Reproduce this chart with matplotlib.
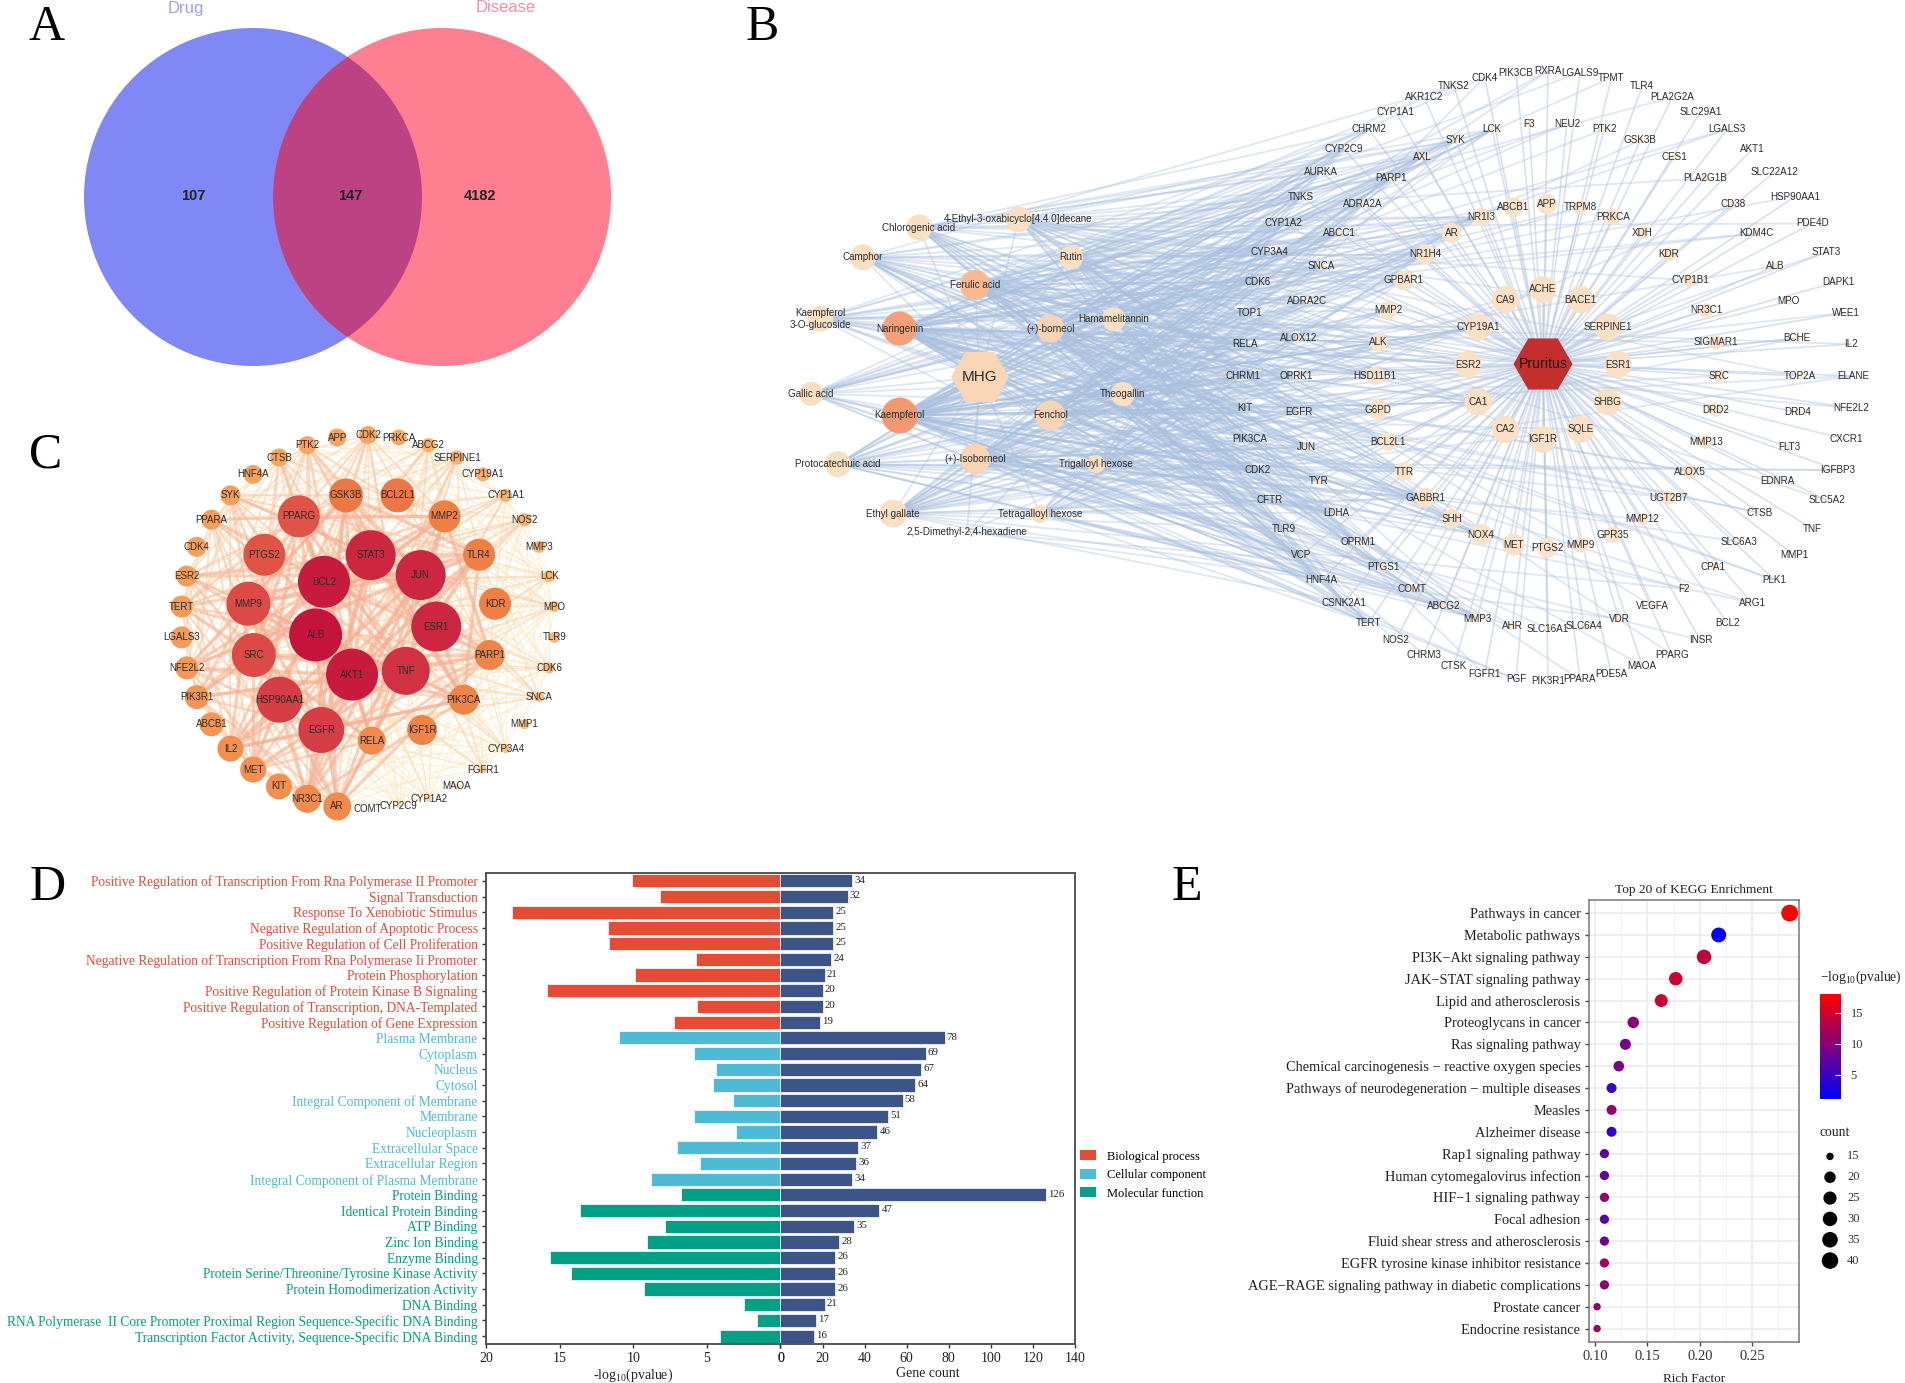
import numpy as np
import matplotlib
matplotlib.use("Agg")
import matplotlib.pyplot as plt
from matplotlib.collections import LineCollection
from matplotlib.colors import LinearSegmentedColormap, Normalize
from matplotlib.patches import Circle, Patch, RegularPolygon

plt.rcParams['font.family'] = ['Liberation Sans', 'DejaVu Sans']
plt.rcParams['mathtext.default'] = 'regular'

W, H = 1906, 1383
SERIF = 'Liberation Serif'

# ---- panel A
venn_titles = ['Drug', 'Disease']
venn_counts = [107, 147, 4182]

# ---- panel B, ring lists run counter clockwise from 3 o'clock
ring1 = ['ESR1', 'SERPINE1', 'BACE1', 'ACHE', 'CA9', 'CYP19A1', 'ESR2', 'CA1', 'CA2', 'IGF1R', 'SQLE', 'SHBG']
ring2 = ['SRC', 'SIGMAR1', 'NR3C1', 'CYP1B1', 'KDR', 'XDH', 'PRKCA', 'TRPM8', 'APP', 'ABCB1', 'NR1I3', 'AR',
         'NR1H4', 'GPBAR1', 'MMP2', 'ALK', 'HSD11B1', 'G6PD', 'BCL2L1', 'TTR', 'GABBR1', 'SHH', 'NOX4', 'MET',
         'PTGS2', 'MMP9', 'GPR35', 'MMP12', 'UGT2B7', 'ALOX5', 'MMP13', 'DRD2']
ring2_r = [6, 7, 7, 7, 7, 6, 8, 7, 10, 10, 9, 10, 10, 10, 9, 9, 9, 10, 9, 9, 10, 10, 11, 11, 10, 8, 8, 6, 7, 7, 7, 7]
ring3_top = ['TOP2A', 'BCHE', 'MPO', 'ALB', 'KDM4C', 'CD38', 'PLA2G1B', 'CES1', 'GSK3B', 'PTK2', 'NEU2', 'F3',
             'LCK', 'SYK', 'AXL', 'PARP1', 'ADRA2A', 'ABCC1', 'SNCA', 'ADRA2C', 'ALOX12', 'OPRK1']
ring3_bottom = ['EGFR', 'JUN', 'TYR', 'LDHA', 'OPRM1', 'PTGS1', 'COMT', 'ABCG2', 'MMP3', 'AHR', 'SLC16A1',
                'SLC6A4', 'VDR', 'VEGFA', 'F2', 'CPA1', 'SLC6A3', 'CTSB', 'EDNRA', 'FLT3', 'DRD4']
ring4 = ['ELANE', 'IL2', 'WEE1', 'DAPK1', 'STAT3', 'PDE4D', 'HSP90AA1', 'SLC22A12', 'AKT1', 'LGALS3', 'SLC29A1',
         'PLA2G2A', 'TLR4', 'TPMT', 'LGALS9', 'RXRA', 'PIK3CB', 'CDK4', 'TNKS2', 'AKR1C2', 'CYP1A1', 'CHRM2',
         'CYP2C9', 'AURKA', 'TNKS', 'CYP1A2', 'CYP3A4', 'CDK6', 'TOP1', 'RELA', 'CHRM1', 'KIT', 'PIK3CA', 'CDK2',
         'CFTR', 'TLR9', 'VCP', 'HNF4A', 'CSNK2A1', 'TERT', 'NOS2', 'CHRM3', 'CTSK', 'FGFR1', 'PGF', 'PIK3R1',
         'PPARA', 'PDE5A', 'MAOA', 'PPARG', 'INSR', 'BCL2', 'ARG1', 'PLK1', 'MMP1', 'TNF', 'SLC5A2', 'IGFBP3',
         'CXCR1', 'NFE2L2']
drug_inner = ['Ferulic acid', 'Naringenin', 'Kaempferol', '(+)-Isoborneol', 'Fenchol', '(+)-borneol']
drug_inner_r = [15, 17, 18, 15, 15, 14]
drug_inner_deg = [48, 70, 78, 36, 36, 33]
drug_outer = ['2,5-Dimethyl-2,4-hexadiene', 'Tetragalloyl hexose', 'Trigalloyl hexose', 'Theogallin',
              'Hamamelitannin', 'Rutin', '4-Ethyl-3-oxabicyclo[4.4.0]decane', 'Chlorogenic acid', 'Camphor',
              'Kaempferol\n3-O-glucoside', 'Gallic acid', 'Protocatechuic acid', 'Ethyl gallate']
drug_outer_angle = [270, 297.7, 325.4, 353, 20.8, 48.5, 71.7, 108, 131.5, 159, 186.9, 214.6, 242]
drug_outer_dist = [157, 157, 157, 157, 157, 157, 164, 155, 157, 157, 157, 157, 157]
drug_outer_r = [2, 9, 9, 12, 12, 12, 13, 13, 13, 13, 12, 13, 14]
drug_outer_deg = [4, 18, 18, 18, 18, 27, 27, 27, 27, 21, 21, 27, 33]

# ---- panel C, same idea
c_inner = ['STAT3', 'BCL2', 'ALB', 'AKT1', 'TNF', 'ESR1', 'JUN']
c_inner_r = [25, 26, 26.5, 26, 24, 25, 25]
c_middle = ['RELA', 'IGF1R', 'PIK3CA', 'PARP1', 'KDR', 'TLR4', 'MMP2', 'BCL2L1', 'GSK3B', 'PPARG', 'PTGS2', 'MMP9',
            'SRC', 'HSP90AA1', 'EGFR']
c_middle_r = [14, 15, 15, 15, 16, 16, 16, 17, 17, 21, 21, 22, 22, 23, 23]
c_outer = ['CDK2', 'APP', 'PTK2', 'CTSB', 'HNF4A', 'SYK', 'PPARA', 'CDK4', 'ESR2', 'TERT', 'LGALS3', 'NFE2L2',
           'PIK3R1', 'ABCB1', 'IL2', 'MET', 'KIT', 'NR3C1', 'AR', 'COMT', 'CYP2C9', 'CYP1A2', 'MAOA', 'FGFR1',
           'CYP3A4', 'MMP1', 'SNCA', 'CDK6', 'TLR9', 'MPO', 'LCK', 'MMP3', 'NOS2', 'CYP1A1', 'CYP19A1', 'SERPINE1',
           'ABCG2', 'PRKCA']
c_outer_r = [9, 9, 9, 9, 9.5, 10, 10, 10, 10.5, 11, 11, 11.5, 12, 12, 13, 13, 13, 14, 14, 1, 2, 3, 3, 4,
             4.5, 5, 5, 5.5, 5.5, 5.5, 6, 6, 6.5, 6.5, 7, 7, 7, 8]

# ---- panel D
go_terms = ['Positive Regulation of Transcription From Rna Polymerase II Promoter', 'Signal Transduction',
            'Response To Xenobiotic Stimulus', 'Negative Regulation of Apoptotic Process',
            'Positive Regulation of Cell Proliferation',
            'Negative Regulation of Transcription From Rna Polymerase Ii Promoter', 'Protein Phosphorylation',
            'Positive Regulation of Protein Kinase B Signaling', 'Positive Regulation of Transcription, DNA-Templated',
            'Positive Regulation of Gene Expression', 'Plasma Membrane', 'Cytoplasm', 'Nucleus', 'Cytosol',
            'Integral Component of Membrane', 'Membrane', 'Nucleoplasm', 'Extracellular Space', 'Extracellular Region',
            'Integral Component of Plasma Membrane', 'Protein Binding', 'Identical Protein Binding', 'ATP Binding',
            'Zinc Ion Binding', 'Enzyme Binding', 'Protein Serine/Threonine/Tyrosine Kinase Activity',
            'Protein Homodimerization Activity', 'DNA Binding',
            'RNA Polymerase  II Core Promoter Proximal Region Sequence-Specific DNA Binding',
            'Transcription Factor Activity, Sequence-Specific DNA Binding']
go_logp = [10.1, 8.17, 18.25, 11.73, 11.65, 5.75, 9.9, 15.86, 5.7, 7.2, 10.97, 5.9, 4.35, 4.6, 3.25, 5.87, 3.04, 7.0,
           5.47, 8.8, 6.76, 13.6, 7.85, 9.1, 15.67, 14.2, 9.28, 2.5, 1.6, 4.08]
go_count = [34, 32, 25, 25, 25, 24, 21, 20, 20, 19, 78, 69, 67, 64, 58, 51, 46, 37, 36, 34, 126, 47, 35, 28, 26, 26, 26,
            21, 17, 16]
go_group = [0] * 10 + [1] * 10 + [2] * 10
go_names = ['Biological process', 'Cellular component', 'Molecular function']

# ---- panel E
kegg_terms = ['Pathways in cancer', 'Metabolic pathways', 'PI3K\u2212Akt signaling pathway',
              'JAK\u2212STAT signaling pathway', 'Lipid and atherosclerosis', 'Proteoglycans in cancer',
              'Ras signaling pathway', 'Chemical carcinogenesis \u2212 reactive oxygen species',
              'Pathways of neurodegeneration \u2212 multiple diseases', 'Measles', 'Alzheimer disease',
              'Rap1 signaling pathway', 'Human cytomegalovirus infection', 'HIF\u22121 signaling pathway',
              'Focal adhesion', 'Fluid shear stress and atherosclerosis', 'EGFR tyrosine kinase inhibitor resistance',
              'AGE\u2212RAGE signaling pathway in diabetic complications', 'Prostate cancer', 'Endocrine resistance']
kegg_rich = [.2857, .218, .204, .177, .1632, .1365, .129, .1227, .1158, .1158, .1158, .109, .109, .109, .109, .109,
             .109, .109, .102, .102]
kegg_logp = [18, 1.5, 14, 15, 14.5, 10.5, 9, 9, 5, 11, 4.5, 7.5, 7.5, 11, 7, 8.5, 12, 10.5, 10.5, 11]
kegg_count = [42, 32, 30, 26, 24, 20, 19, 18, 17, 17, 17, 16, 16, 16, 16, 16, 16, 16, 15, 15]
legend_counts = [15, 20, 25, 30, 35, 40]


def px_axes(left, top, right, bottom, **kw):
    return fig.add_axes([left / W, 1 - bottom / H, (right - left) / W, (bottom - top) / H], **kw)


def ring(cx, cy, r, n, start=0.0):
    a = np.radians(start + np.arange(n) * 360.0 / n)
    return np.c_[cx + r * np.cos(a), cy - r * np.sin(a)]


def draw_nodes(ax, xy, radii, colors, zorder=3):
    sizes = (2 * np.asarray(radii, float) * 0.72) ** 2
    ax.scatter(xy[:, 0], xy[:, 1], s=sizes, c=colors, linewidths=0, zorder=zorder)


def draw_labels(ax, names, xy, size, color='#2b2b2b'):
    for name, (x, y) in zip(names, xy):
        ax.text(x, y, name, fontsize=size, color=color, ha='center', va='center', zorder=5)


fig = plt.figure(figsize=(W / 100, H / 100), dpi=100, facecolor='white')
net = fig.add_axes([0, 0, 1, 1])
net.set_xlim(0, W)
net.set_ylim(H, 0)
net.axis('off')

for letter, x, y in [('A', 47, 28), ('B', 762, 28), ('C', 46, 455), ('D', 48, 888), ('E', 1187, 888)]:
    net.text(x, y, letter, fontsize=36, family=SERIF, ha='center', va='center', color='black', zorder=6)

# A: venn
left_c = Circle((253, 197), 169, fc='#8088F5', ec='none')
right_c = Circle((442, 197), 169, fc='#FE8090', ec='none')
net.add_patch(left_c)
net.add_patch(right_c)
both = Circle((442, 197), 169, fc='#BC4283', ec='none', zorder=1.5)
net.add_patch(both)
both.set_clip_path(Circle((253, 197), 169, transform=net.transData))
net.text(186, 8, venn_titles[0], fontsize=12, color='#9AA0F2', ha='center', va='center')
net.text(506, 8, venn_titles[1], fontsize=12, color='#F78FA0', ha='center', va='center')
for val, x in zip(venn_counts, [193, 350, 480]):
    net.text(x, 196, str(val), fontsize=10.5, fontweight='bold', color='#222222', ha='center', va='center', zorder=3)

# B: target rings
xy1 = ring(1543, 364.5, 75, len(ring1))
xy2 = ring(1547, 376, 172, len(ring2))
a_top = np.radians(np.linspace(0, 180, len(ring3_top)))
a_bot = np.radians(np.linspace(180, 360, len(ring3_bottom) + 2)[1:-1])
a3 = np.r_[a_top, a_bot]
ring3 = ring3_top + ring3_bottom
xy3 = np.c_[1548 + 252 * np.cos(a3), 376 - 253 * np.sin(a3)]
xy4 = ring(1548, 376, 305, len(ring4))
targets = np.vstack([xy1, xy2, xy3, xy4])

xy_di = ring(975, 372, 87, len(drug_inner), start=90)
a_do = np.radians(drug_outer_angle)
d_do = np.array(drug_outer_dist, float)
xy_do = np.c_[967 + d_do * np.cos(a_do), 375 - d_do * np.sin(a_do)]
drugs = np.vstack([xy_di, xy_do])
drug_names = drug_inner + drug_outer
drug_deg = drug_inner_deg + drug_outer_deg
mhg = (980, 377)
pruritus = (1543, 364)

# Edges cannot be read one by one: each drug gets as many links as its node size suggests
left_pool = np.where((targets[:, 0] < 1500) & (np.abs(targets[:, 1] - 376) < 260))[0]
segs = []
for i, (d, deg) in enumerate(zip(drugs, drug_deg)):
    for k in range(deg):
        pool = left_pool if k % 5 else np.arange(len(targets))
        segs.append([d, targets[pool[(i * 13 + k * 7) % len(pool)]]])
    segs.append([d, mhg])
net.add_collection(LineCollection(segs, colors='#A9C0DF', linewidths=1.3, alpha=0.38, zorder=1))
segs2 = [[pruritus, t] for t in targets]
net.add_collection(LineCollection(segs2, colors='#B7C9E3', linewidths=1.2, alpha=0.55, zorder=1))

draw_nodes(net, xy1, [13.5] * len(ring1), '#FBE0C5')
draw_nodes(net, xy2, ring2_r, '#FBE3CB')
draw_nodes(net, xy3, [3.5] * len(ring3), '#FBE6CF')
di_colors = ['#F6B990', '#F4A079', '#F4986F', '#F9D3B4', '#F9D3B4', '#F9D3B4']
draw_nodes(net, xy_di, drug_inner_r, di_colors)
draw_nodes(net, xy_do, drug_outer_r, '#FBDFC3')
net.add_patch(RegularPolygon(mhg, 6, radius=29, orientation=np.pi / 2, fc='#F8D6B6', ec='none', zorder=3))
net.add_patch(RegularPolygon(pruritus, 6, radius=29.5, orientation=np.pi / 2, fc='#C22F2D', ec='none', zorder=3))
net.text(*mhg, 'MHG', fontsize=11, color='#2b2b2b', ha='center', va='center', zorder=5)
net.text(*pruritus, 'Pruritus', fontsize=10.2, color='#2a1010', ha='center', va='center', zorder=5)
draw_labels(net, ring1, xy1, 7.1)
draw_labels(net, ring2, xy2, 7.1)
draw_labels(net, ring3, xy3, 7.1)
draw_labels(net, ring4, xy4, 7.1)
draw_labels(net, drug_names, drugs, 7.1)

# C: hub genes
xy_ci = ring(375, 617, 62, len(c_inner), start=94)
xy_cm = ring(371.7, 616.7, 124, len(c_middle), start=270)
xy_co = ring(368, 622, 187, len(c_outer), start=90)
c_xy = np.vstack([xy_ci, xy_cm, xy_co])
c_names = c_inner + c_middle + c_outer
c_r = np.array(c_inner_r + c_middle_r + c_outer_r, float)
hub_cmap = LinearSegmentedColormap.from_list('hub', ['#FDE0B8', '#FBB26E', '#F79A55', '#EE7D42', '#DF5049', '#C5143C'])
hub_norm = Normalize(1, 26.5)
c_segs, c_cols, c_lws = [], [], []
edge_cmap = LinearSegmentedColormap.from_list('edge', ['#CFE3EA', '#FBEDB9', '#FBE2BC', '#F9C7A4', '#F6AE92'])
n_c = len(c_xy)
for i in range(n_c):
    for j in range(i + 1, n_c):
        if (i * j + i + j) % 3:
            continue
        score = min(c_r[i], c_r[j]) + 0.3 * max(c_r[i], c_r[j])
        val = np.clip(score / 20, 0, 1)
        c_segs.append([c_xy[i], c_xy[j]])
        c_cols.append(val)
        c_lws.append(0.5 + 2.0 * val ** 2)
order = np.argsort(c_cols)
net.add_collection(LineCollection([c_segs[i] for i in order], colors=edge_cmap(np.array(c_cols)[order]),
                                  linewidths=np.array(c_lws)[order], alpha=0.6, zorder=1))
draw_nodes(net, c_xy, c_r, hub_cmap(hub_norm(c_r)))
draw_labels(net, c_names, c_xy, 7)

# D: butterfly bars
bar_colors = ['#E64B35', '#4DBBD5', '#00A087']
y = np.arange(len(go_terms))
colors = [bar_colors[g] for g in go_group]
ax_l = px_axes(486, 873, 780.5, 1344)
ax_r = px_axes(780.5, 873, 1075, 1344)
ax_l.barh(y, go_logp, height=0.84, color=colors, edgecolor='white', linewidth=0.5)
ax_r.barh(y, go_count, height=0.84, color='#3C5488', edgecolor='white', linewidth=0.5)
ax_l.set_xlim(20, 0)
ax_r.set_xlim(0, 140)
for a in (ax_l, ax_r):
    a.set_ylim(29.5, -0.5)
    a.set_facecolor('none')
    for s in a.spines.values():
        s.set_color('#555555')
        s.set_linewidth(1.4)
    a.tick_params(axis='x', length=3, width=1, color='#333333', labelsize=10, labelcolor='#222222', pad=3)
ax_l.spines['right'].set_visible(False)
ax_r.spines['left'].set_visible(False)
ax_l.set_xticks([20, 15, 10, 5, 0])
ax_r.set_xticks(np.arange(0, 141, 20))
for a in (ax_l, ax_r):
    a.set_xticklabels(a.get_xticks(), family=SERIF, fontsize=10, color='#222222')
ax_r.set_yticks([])
ax_l.set_yticks(y)
ax_l.set_yticklabels(go_terms, family=SERIF, fontsize=9.75)
ax_l.tick_params(axis='y', length=3, width=1, color='#333333', pad=3)
for lab, g in zip(ax_l.get_yticklabels(), go_group):
    lab.set_color(bar_colors[g])
for yi, c in zip(y, go_count):
    ax_r.text(c + 1, yi - 0.05, str(c), family=SERIF, fontsize=7.8, color='#222222', ha='left', va='center')
ax_l.set_xlabel('-log$_{10}$(pvalue)', family=SERIF, fontsize=10, color='#222222', labelpad=1)
ax_r.set_xlabel('Gene count', family=SERIF, fontsize=10, color='#222222', labelpad=1)
handles = [Patch(fc=c, ec='none') for c in bar_colors]
fig.legend(handles, go_names, loc='center left', bbox_to_anchor=(1076 / W, 1 - 1175 / H), frameon=False,
           prop={'family': SERIF, 'size': 9}, handlelength=1.3, handleheight=0.85, handletextpad=0.9,
           labelspacing=0.5, borderpad=0.3, borderaxespad=0)

# E: KEGG dots
ax_e = px_axes(1588.8, 900, 1799, 1341.7)
kegg_cmap = LinearSegmentedColormap.from_list('kegg', ['#0000FF', '#FF0000'])
kegg_norm = Normalize(1.13, 18)


def dot_size(c):
    return (0.72 * (7.4 + 9.5 * np.sqrt((np.asarray(c, float) - 15) / 27))) ** 2


ye = np.arange(len(kegg_terms))
ax_e.scatter(kegg_rich, ye, s=dot_size(kegg_count), c=kegg_logp, cmap=kegg_cmap, norm=kegg_norm, linewidths=0, zorder=3)
ax_e.set_xlim(0.0941, 0.2946)
ax_e.set_ylim(19.6, -0.6)
ax_e.set_xticks([0.10, 0.15, 0.20, 0.25])
ax_e.set_xticklabels(['0.10', '0.15', '0.20', '0.25'], family=SERIF, fontsize=10.5, color='#333333')
ax_e.set_xticks([0.125, 0.175, 0.225, 0.275], minor=True)
ax_e.set_yticks(ye)
ax_e.set_yticklabels(kegg_terms, family=SERIF, fontsize=10.4, color='#222222')
ax_e.tick_params(axis='both', which='major', length=3, width=1, color='#444444', pad=3)
ax_e.tick_params(axis='x', which='minor', length=0)
ax_e.grid(True, which='major', color='#EBEBEB', linewidth=1.1, zorder=0)
ax_e.grid(True, which='minor', axis='x', color='#F2F2F2', linewidth=0.6, zorder=0)
ax_e.set_axisbelow(True)
for s in ax_e.spines.values():
    s.set_color('#777777')
    s.set_linewidth(1.1)
ax_e.set_title('Top 20 of KEGG Enrichment', family=SERIF, fontsize=9.6, color='#222222', pad=5)
ax_e.set_xlabel('Rich Factor', family=SERIF, fontsize=9.5, color='#222222', labelpad=7)

cax = px_axes(1820, 994, 1840.7, 1099)
sm = plt.cm.ScalarMappable(norm=kegg_norm, cmap=kegg_cmap)
cb = fig.colorbar(sm, cax=cax)
cb.outline.set_visible(False)
cb.set_ticks([5, 10, 15])
cb.ax.tick_params(length=4, width=0.8, color='white', direction='in', labelsize=9, labelcolor='#333333', pad=7)
for lab in cb.ax.get_yticklabels():
    lab.set_family(SERIF)
net.text(1820, 977, '\u2212log$_{10}$(pvalue)', family=SERIF, fontsize=9.8, color='#222222', ha='left', va='center')
net.text(1820, 1133, 'count', family=SERIF, fontsize=9.8, color='#222222', ha='left', va='center')

leg = px_axes(1815, 1146, 1900, 1271)
leg.axis('off')
leg.set_xlim(1815, 1900)
leg.set_ylim(len(legend_counts) - 0.5, -0.5)
ly = np.arange(len(legend_counts))
leg.scatter([1830] * len(ly), ly, s=dot_size(legend_counts), c='black', linewidths=0)
for yi, c in zip(ly, legend_counts):
    leg.text(1847, yi, str(c), family=SERIF, fontsize=9, color='#333333', va='center')

fig.savefig('out.png', dpi=100, facecolor='white')
